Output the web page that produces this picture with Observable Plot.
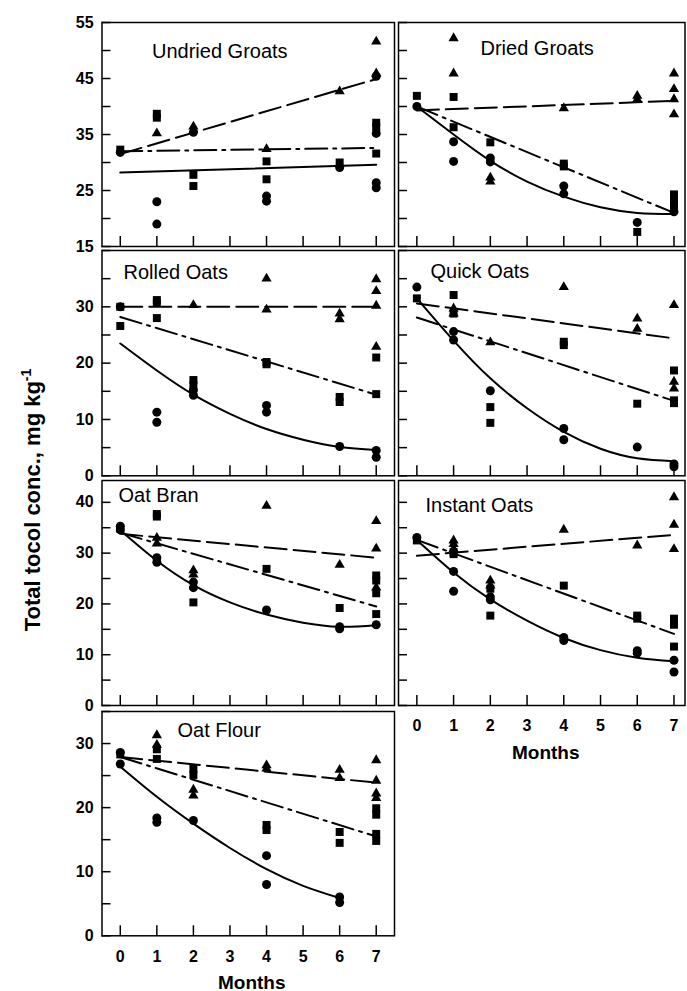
<!DOCTYPE html>
<html><head><meta charset="utf-8">
<script src="https://cdn.jsdelivr.net/npm/d3@7"></script>
<script src="https://cdn.jsdelivr.net/npm/@observablehq/plot@0.6"></script>
<style>
html,body{margin:0;padding:0;background:#fff;}
#chart{position:relative;width:687px;height:991px;overflow:hidden;font-family:"Liberation Sans",Arial,sans-serif;}
#chart svg{position:absolute;}
#ylab{position:absolute;left:32px;top:500px;transform:translate(-50%,-50%) rotate(-90deg);font-weight:bold;font-size:22px;white-space:nowrap;color:#000;}
#ylab sup{font-size:14px;}
</style></head><body>
<div id="chart"><div id="ylab">Total tocol conc., mg kg<sup>-1</sup></div></div>
<script>
// ---------- tick values ----------
const monthTicks = [0, 1, 2, 3, 4, 5, 6, 7];
const row1Ticks = [15, 20, 25, 30, 35, 40, 45, 50, 55];
const row1Labels = [15, 25, 35, 45, 55];
const row2Ticks = [0, 5, 10, 15, 20, 25, 30, 35, 40];
const row2Labels = [0, 10, 20, 30];
const row3Ticks = [0, 5, 10, 15, 20, 25, 30, 35, 40];
const row3Labels = [0, 10, 20, 30, 40];
const row4Ticks = [0, 5, 10, 15, 20, 25, 30, 35];
const row4Labels = [0, 10, 20, 30];

// ---------- Undried Groats ----------
const undriedTri = [[1,35.2],[2,36.4],[4,32.4],[6,42.7],[7,51.6],[7,45.9]];
const undriedSq = [[0,32.3],[1,38.7],[1,38.0],[2,27.8],[2,25.8],[4,30.2],[4,27.0],[6,30.0],[7,37.1],[7,36.3],[7,31.6]];
const undriedCirc = [[0,31.8],[1,23.0],[1,19.0],[2,35.4],[4,24.0],[4,23.1],[6,29.1],[7,45.4],[7,35.2],[7,26.4],[7,25.5]];
const undriedFitTri = [[0,31.5],[7,44.9]];
const undriedFitSq = [[0,32.0],[7,32.6]];
const undriedFitCirc = [[0,28.2],[7,29.6]];

// ---------- Dried Groats ----------
const driedTri = [[1,52.2],[1,45.9],[2,27.3],[2,26.6],[4,39.7],[6,41.9],[6,41.3],[7,45.9],[7,43.1],[7,41.3],[7,38.6]];
const driedSq = [[0,41.9],[1,41.7],[1,36.3],[2,33.6],[4,29.8],[4,29.3],[6,17.6],[7,24.3],[7,23.2],[7,22.2]];
const driedCirc = [[0,40.0],[1,33.7],[1,30.2],[2,30.8],[2,30.1],[4,25.8],[4,24.4],[6,19.3],[7,21.2]];
const driedFitTri = [[0,39.3],[7,41.0]];
const driedFitSq = [[0,40.0],[7,21.0]];
const driedFitCirc = [[0,40.0],[1,35.0],[2,30.3],[3,26.6],[4,23.9],[5,22.0],[6,21.0],[7,20.8]];

// ---------- Rolled Oats ----------
const rolledTri = [[2,30.3],[4,35.0],[4,29.5],[6,28.8],[6,27.8],[7,34.9],[7,32.8],[7,30.2],[7,22.9]];
const rolledSq = [[0,30.0],[0,26.6],[1,31.2],[1,30.7],[1,28.0],[2,17.0],[2,16.1],[4,20.2],[4,19.8],[6,14.0],[6,13.1],[7,21.0],[7,14.5]];
const rolledCirc = [[0,30.0],[1,11.3],[1,9.5],[2,15.2],[2,14.3],[4,12.5],[4,11.3],[6,5.2],[7,4.5],[7,3.3]];
const rolledFitTri = [[0,30.0],[7,30.0]];
const rolledFitSq = [[0,28.2],[7,14.4]];
const rolledFitCirc = [[0,23.5],[1,18.7],[2,14.4],[3,11.0],[4,8.3],[5,6.4],[6,5.1],[7,4.6]];

// ---------- Quick Oats ----------
const quickTri = [[1,29.7],[1,28.8],[2,23.7],[4,33.5],[6,27.9],[6,26.1],[7,30.3],[7,16.7],[7,15.5]];
const quickSq = [[0,31.5],[1,32.1],[1,28.8],[2,12.2],[2,9.4],[4,23.8],[4,23.2],[6,12.8],[7,18.7],[7,13.4],[7,12.9]];
const quickCirc = [[0,33.5],[1,25.6],[1,24.1],[2,15.1],[4,8.4],[4,6.4],[6,5.1],[7,2.1],[7,1.6]];
const quickFitTri = [[0,30.6],[7,24.4]];
const quickFitSq = [[0,28.1],[7,13.3]];
const quickFitCirc = [[0,31.5],[1,24.0],[2,17.3],[3,12.0],[4,7.8],[5,4.8],[6,3.1],[7,2.6]];

// ---------- Oat Bran ----------
const branTri = [[1,33.0],[1,31.9],[2,26.6],[2,25.8],[4,39.3],[6,27.7],[7,36.3],[7,30.9],[7,23.2]];
const branSq = [[0,34.8],[1,37.7],[1,37.2],[2,20.3],[4,26.9],[6,19.2],[7,25.6],[7,24.6],[7,22.1],[7,18.0]];
const branCirc = [[0,35.3],[0,34.6],[1,29.1],[1,28.2],[2,24.3],[2,23.2],[4,18.8],[6,15.5],[6,15.1],[7,15.9]];
const branFitTri = [[0,33.8],[7,29.1]];
const branFitSq = [[0,34.0],[7,19.5]];
const branFitCirc = [[0,34.5],[1,28.5],[2,23.7],[3,20.3],[4,17.9],[5,16.3],[6,15.5],[7,15.8]];

// ---------- Instant Oats ----------
const instantTri = [[1,32.5],[1,31.8],[1,30.8],[2,24.6],[2,23.6],[4,34.6],[6,31.5],[7,41.0],[7,35.6],[7,30.8]];
const instantSq = [[0,32.5],[1,30.2],[1,29.8],[2,23.0],[2,17.7],[4,23.6],[6,17.7],[6,17.1],[7,17.1],[7,15.9],[7,11.6]];
const instantCirc = [[0,33.1],[1,26.4],[1,22.5],[2,21.4],[2,20.8],[4,13.4],[4,12.8],[6,10.8],[6,10.3],[7,8.9],[7,6.6]];
const instantFitTri = [[0,29.5],[7,33.6]];
const instantFitSq = [[0,32.6],[7,14.1]];
const instantFitCirc = [[0,32.6],[1,26.2],[2,20.9],[3,16.7],[4,13.3],[5,10.9],[6,9.4],[7,8.7]];

// ---------- Oat Flour ----------
const flourTri = [[1,31.3],[1,29.8],[2,22.8],[2,21.9],[4,26.6],[4,26.1],[6,25.9],[6,24.6],[7,27.4],[7,24.2],[7,22.2],[7,21.5]];
const flourSq = [[0,28.3],[1,29.1],[1,27.6],[2,26.1],[2,25.1],[4,17.3],[4,16.5],[6,16.2],[6,14.5],[7,19.9],[7,18.9],[7,15.9],[7,14.8]];
const flourCirc = [[0,28.6],[0,26.8],[1,18.4],[1,17.7],[2,18.0],[4,12.5],[4,8.0],[6,6.05],[6,5.2]];
const flourFitTri = [[0,27.9],[7,23.9]];
const flourFitSq = [[0,27.9],[7,15.5]];
const flourFitCirc = [[0,26.4],[1,21.7],[2,17.5],[3,13.7],[4,10.4],[5,7.8],[6,5.9]];

// ---------- layout ----------
const FONT = '"Liberation Sans", Arial, sans-serif';
const COLS = {
  left:  {svgLeft: 0,   frameL: 101.5, frameR: 394,   xDomain: [-0.5, 7.5], monthsDx: 3.5},
  right: {svgLeft: 390, frameL: 398,   frameR: 684.5, xDomain: [-0.5, 7.3], monthsDx: 4}
};
const ROWS = [
  {top: 21.7, bottom: 245.7, domain: [15, 55],  ticks: row1Ticks, labels: row1Labels},
  {top: 250,  bottom: 475.3, domain: [0, 40],   ticks: row2Ticks, labels: row2Labels},
  {top: 480,  bottom: 705,   domain: [0, 44.3], ticks: row3Ticks, labels: row3Labels},
  {top: 710.7,bottom: 935,   domain: [0, 35],   ticks: row4Ticks, labels: row4Labels}
];

const panels = [
  {title: "Undried Groats", col: "left",  row: 0, tdx: 50,   tdy: 35.6, tri: undriedTri, sq: undriedSq, circ: undriedCirc, fTri: undriedFitTri, fSq: undriedFitSq, fCirc: undriedFitCirc},
  {title: "Dried Groats",   col: "right", row: 0, tdx: 82,   tdy: 32.3, tri: driedTri, sq: driedSq, circ: driedCirc, fTri: driedFitTri, fSq: driedFitSq, fCirc: driedFitCirc},
  {title: "Rolled Oats",    col: "left",  row: 1, tdx: 21.5, tdy: 28.3, tri: rolledTri, sq: rolledSq, circ: rolledCirc, fTri: rolledFitTri, fSq: rolledFitSq, fCirc: rolledFitCirc},
  {title: "Quick Oats",     col: "right", row: 1, tdx: 32,   tdy: 27.7, tri: quickTri, sq: quickSq, circ: quickCirc, fTri: quickFitTri, fSq: quickFitSq, fCirc: quickFitCirc},
  {title: "Oat Bran",       col: "left",  row: 2, tdx: 16.5, tdy: 21.7, tri: branTri, sq: branSq, circ: branCirc, fTri: branFitTri, fSq: branFitSq, fCirc: branFitCirc},
  {title: "Instant Oats",   col: "right", row: 2, tdx: 27,   tdy: 31.7, tri: instantTri, sq: instantSq, circ: instantCirc, fTri: instantFitTri, fSq: instantFitSq, fCirc: instantFitCirc, xLabels: true},
  {title: "Oat Flour",      col: "left",  row: 3, tdx: 75.5, tdy: 26,   tri: flourTri, sq: flourSq, circ: flourCirc, fTri: flourFitTri, fSq: flourFitSq, fCirc: flourFitCirc, xLabels: true}
];

const chart = document.getElementById("chart");
const X = d => d[0], Y = d => d[1];

for (const p of panels) {
  const c = COLS[p.col], r = ROWS[p.row];
  const mt = 14, mb = p.xLabels ? 56 : 14;
  const ml = c.frameL - c.svgLeft;
  const plotW = c.frameR - c.frameL;
  const mr = 2;
  const width = ml + plotW + mr;
  const height = mt + (r.bottom - r.top) + mb;
  const marks = [
    Plot.axisX({ticks: monthTicks, tickSize: -10, strokeWidth: 1.5, tickPadding: 24.6,
      tickFormat: p.xLabels ? (d => String(d)) : (() => ""), label: null}),
    Plot.axisY({ticks: r.ticks, tickSize: -9, strokeWidth: 1.5, tickFormat: () => "", label: null})
  ];
  if (p.col === "left") {
    marks.push(Plot.axisY({ticks: r.labels, tickSize: 0, tickPadding: 8.4, label: null}));
  }
  marks.push(
    Plot.line(p.fTri,  {x: X, y: Y, stroke: "black", strokeWidth: 2, strokeDasharray: "22,7"}),
    Plot.line(p.fSq,   {x: X, y: Y, stroke: "black", strokeWidth: 2, strokeDasharray: "22,6,3,6"}),
    Plot.line(p.fCirc, {x: X, y: Y, stroke: "black", strokeWidth: 2, curve: "natural"}),
    Plot.dot(p.tri,  {x: X, y: Y, symbol: "triangle", r: 3.8, fill: "black", stroke: "none"}),
    Plot.dot(p.sq,   {x: X, y: Y, symbol: "square", r: 4.5, fill: "black", stroke: "none"}),
    Plot.dot(p.circ, {x: X, y: Y, symbol: "circle", r: 4.5, fill: "black", stroke: "none"}),
    Plot.frame({stroke: "black", strokeWidth: 1.5}),
    Plot.text([p.title], {text: d => d, frameAnchor: "top-left", textAnchor: "start", lineAnchor: "bottom",
      dx: p.tdx, dy: p.tdy, fontSize: 20, fontWeight: "normal", fill: "black"})
  );
  if (p.xLabels) {
    marks.push(Plot.text(["Months"], {text: d => d, frameAnchor: "bottom", lineAnchor: "bottom",
      dx: c.monthsDx, dy: 53, fontSize: 19, fontWeight: "bold", fill: "black"}));
  }
  const svg = Plot.plot({
    width, height,
    marginLeft: ml, marginRight: mr, marginTop: mt, marginBottom: mb,
    x: {domain: c.xDomain, label: null},
    y: {domain: r.domain, label: null},
    style: {fontFamily: FONT, fontSize: "16px", fontWeight: "bold", background: "transparent", overflow: "visible", color: "black"},
    marks
  });
  svg.style.left = c.svgLeft + "px";
  svg.style.top = (r.top - mt) + "px";
  svg.style.maxWidth = "none";
  chart.appendChild(svg);
}
</script>
</body></html>
